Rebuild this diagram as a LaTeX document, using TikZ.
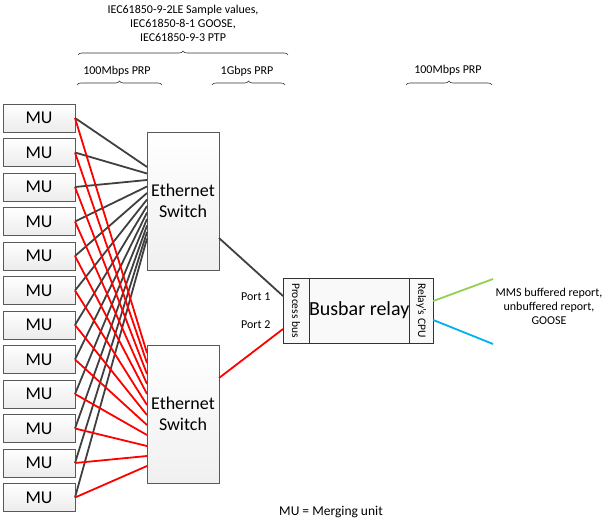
\documentclass[tikz,border=0pt]{standalone}
\usepackage{fontspec}
\setmainfont{Carlito}
\usepackage{tikz}
\usetikzlibrary{positioning}
\usetikzlibrary{decorations.pathreplacing}
\definecolor{linkgreen}{HTML}{92D050}
\definecolor{linkblue}{HTML}{00B0F0}

\tikzset{
	mubox/.style={draw=gray!70!black, top color=white, bottom color=gray!15, minimum width=72pt, minimum height=28pt, inner sep=0pt, outer sep=0pt, font=\fontsize{18}{20}\selectfont},
	switchbox/.style={draw=gray!70!black, top color=white, bottom color=gray!12, minimum width=72pt, minimum height=138pt, inner sep=0pt, outer sep=0pt, align=center, font=\fontsize{18}{21}\selectfont},
	relaybox/.style={draw=gray!40!black, fill=gray!5, minimum height=65pt, inner sep=0pt, outer sep=0pt},
	blackline/.style={draw=black!75, line width=1.8pt},
	redline/.style={draw=red, line width=1.8pt},
	small/.style={font=\fontsize{12}{14}\selectfont, align=center},
	topbrace/.style={decorate, decoration={brace, amplitude=4pt}, draw=black!80, line width=0.6pt}
}

\begin{document}
\begin{tikzpicture}[x=1pt, y=-1pt]
	\useasboundingbox (0,0) rectangle (604,519);
	% merging units
	\node[mubox] (mu1) at (39,118) {MU};
	\node[mubox] (mu2) at (39,152.5) {MU};
	\node[mubox] (mu3) at (39,187) {MU};
	\node[mubox] (mu4) at (39,221.5) {MU};
	\node[mubox] (mu5) at (39,256) {MU};
	\node[mubox] (mu6) at (39,290.5) {MU};
	\node[mubox] (mu7) at (39,325) {MU};
	\node[mubox] (mu8) at (39,359.5) {MU};
	\node[mubox] (mu9) at (39,394) {MU};
	\node[mubox] (mu10) at (39,428.5) {MU};
	\node[mubox] (mu11) at (39,463) {MU};
	\node[mubox] (mu12) at (39,497.5) {MU};
	% switches
	\node[switchbox] (sw1) at (183,201) {Ethernet\\Switch};
	\node[switchbox] (sw2) at (183,414) {Ethernet\\Switch};
	% relay
	\node[relaybox, minimum width=26pt] (pb) at (296,310.5) {\rotatebox{-90}{\fontsize{11.5}{13}\selectfont Process bus}};
	\node[relaybox, minimum width=100pt, right=0pt of pb, font=\fontsize{20}{22}\selectfont] (relay) {Busbar relay};
	\node[relaybox, minimum width=24pt, right=0pt of relay] (cpu) {\rotatebox{-90}{\fontsize{11.5}{13}\selectfont Relay's CPU}};
	% links to the first switch
	\draw[blackline] (mu1.east) -- ([yshift=-35pt]sw1.north west);
	\draw[blackline] (mu2.east) -- ([yshift=-41.5pt]sw1.north west);
	\draw[blackline] (mu3.east) -- ([yshift=-48pt]sw1.north west);
	\draw[blackline] (mu4.east) -- ([yshift=-54.5pt]sw1.north west);
	\draw[blackline] (mu5.east) -- ([yshift=-61pt]sw1.north west);
	\draw[blackline] (mu6.east) -- ([yshift=-67.5pt]sw1.north west);
	\draw[blackline] (mu7.east) -- ([yshift=-74pt]sw1.north west);
	\draw[blackline] (mu8.east) -- ([yshift=-80.5pt]sw1.north west);
	\draw[blackline] (mu9.east) -- ([yshift=-87pt]sw1.north west);
	\draw[blackline] (mu10.east) -- ([yshift=-93.5pt]sw1.north west);
	\draw[blackline] (mu11.east) -- ([yshift=-100pt]sw1.north west);
	\draw[blackline] (mu12.east) -- ([yshift=-106.5pt]sw1.north west);
	% links to the second switch
	\draw[redline] (mu1.east) -- ([yshift=-8pt]sw2.north west);
	\draw[redline] (mu2.east) -- ([yshift=-18pt]sw2.north west);
	\draw[redline] (mu3.east) -- ([yshift=-29pt]sw2.north west);
	\draw[redline] (mu4.east) -- ([yshift=-39pt]sw2.north west);
	\draw[redline] (mu5.east) -- ([yshift=-49pt]sw2.north west);
	\draw[redline] (mu6.east) -- ([yshift=-60pt]sw2.north west);
	\draw[redline] (mu7.east) -- ([yshift=-70pt]sw2.north west);
	\draw[redline] (mu8.east) -- ([yshift=-80pt]sw2.north west);
	\draw[redline] (mu9.east) -- ([yshift=-90pt]sw2.north west);
	\draw[redline] (mu10.east) -- ([yshift=-101pt]sw2.north west);
	\draw[redline] (mu11.east) -- ([yshift=-111pt]sw2.north west);
	\draw[redline] (mu12.east) -- ([yshift=-121pt]sw2.north west);
	% switches to relay
	\draw[blackline] ([yshift=32pt]sw1.south east) -- ([yshift=-18pt]pb.north west);
	\draw[redline] ([yshift=-33pt]sw2.north east) -- ([yshift=14pt]pb.south west);
	\node[small, anchor=east] (p1) at (274,297) {Port 1};
	\node[small, anchor=east] (p2) at (274,325) {Port 2};
	% station side
	\coordinate (gend) at (493,279);
	\coordinate (bend) at (493,344);
	\draw[draw=linkgreen, line width=1.8pt] ([yshift=-23pt]cpu.north east) -- (gend);
	\draw[draw=linkblue, line width=1.8pt] ([yshift=23pt]cpu.south east) -- (bend);
	\node[small] (mms) at (549,306) {MMS buffered report,\\unbuffered report,\\GOOSE};
	% braces and labels
	\draw[topbrace] (78,55) -- (288,55);
	\node[small] (iec) at (183,23) {IEC61850-9-2LE Sample values,\\IEC61850-8-1 GOOSE,\\IEC61850-9-3 PTP};
	\draw[topbrace] (77,85) -- (162,85);
	\node[small] (prp1) at (117,71) {100Mbps PRP};
	\draw[topbrace] (212,85) -- (285,85);
	\node[small] (prp2) at (247,71) {1Gbps PRP};
	\draw[topbrace] (406,85) -- (492,85);
	\node[small] (prp3) at (448,70) {100Mbps PRP};
	\node[font=\fontsize{13.5}{16}\selectfont] (note) at (331,512) {MU = Merging unit};
\end{tikzpicture}
\end{document}
